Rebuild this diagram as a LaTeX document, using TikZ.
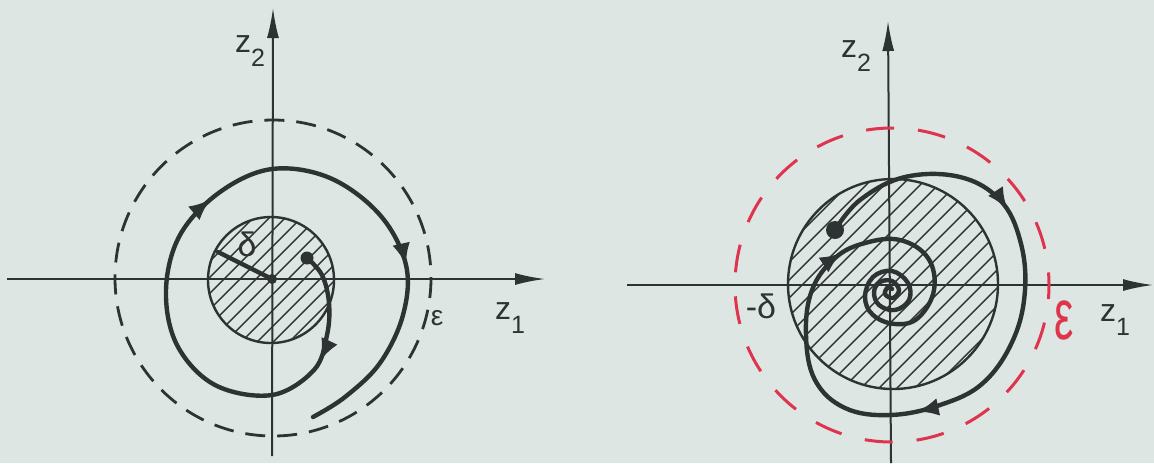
\documentclass[tikz,border=0pt]{standalone}
\usepackage{fontspec}
\setmainfont{Liberation Sans}
\usetikzlibrary{arrows.meta,decorations.markings}
\definecolor{bg}{RGB}{221,230,226}
\definecolor{ink}{RGB}{45,50,50}
\definecolor{redink}{RGB}{222,52,78}
\tikzset{spiraltip/.tip={Latex[length=11pt,width=9pt]}}
\begin{document}
\begin{tikzpicture}[x=0.5pt,y=-0.5pt,
  axis/.style={ink, line width=1pt, -{Latex[length=15pt,width=6pt]}},
  traj/.style={ink, line width=2.2pt, line cap=round, line join=round},
  rim/.style={ink, line width=1.2pt},
  hatchline/.style={ink, line width=0.7pt},
  lbl/.style={ink, inner sep=0pt, font=\fontsize{16}{16}\selectfont},
  dashblack/.style={ink, line width=1.4pt, dash pattern=on 10pt off 6pt},
  dashred/.style={redink, line width=1.5pt, dash pattern=on 14pt off 12pt}]
\fill[bg] (0,0) rectangle (1154,463);
\useasboundingbox (0,0) rectangle (1154,463);

% ---------------- left diagram ----------------
\coordinate (O1) at (272,279);
\coordinate (L1) at (7,279);
\coordinate (R1) at (545,279);
\coordinate (B1) at (272,456);
\coordinate (T1) at (273,8);
\coordinate (C1) at (271,280);
\begin{scope}
  \clip (C1) circle[radius=63];
  \foreach \c in {-176,-160,...,176}
    \draw[hatchline, shift={(C1)}] (\c+200,-200) -- (\c-200,200);
\end{scope}
\draw[rim] (C1) circle[radius=63];
\draw[axis] (L1) -- (R1);
\draw[axis] (B1) -- (T1);
\draw[dashblack] (273,278) circle[radius=158];
\coordinate (D1) at (218,252);
\draw[traj] (O1) -- (D1);
\fill[ink] (O1) circle[radius=5];
\coordinate (S1) at (307,258);
\fill[ink] (S1) circle[radius=6.5];
\draw[traj, postaction={decorate}, decoration={markings,
    mark=at position 0.125 with {\arrow{spiraltip}},
    mark=at position 0.505 with {\arrow{spiraltip}},
    mark=at position 0.785 with {\arrow{spiraltip}}}]
  plot[smooth, tension=0.6] coordinates {(S1) (322,275) (329,303) (327,335)
    (314,370) (272,395) (215,385) (177,345) (166,290) (180,235) (220,192)
    (272,169) (330,178) (380,215) (406,265) (403,315) (380,363) (345,397)
    (313,417)};
\node[lbl] (z2a) at (250,51) {z\raisebox{-7pt}{\fontsize{12.5}{12}\selectfont 2}};
\node[lbl] (z1a) at (510,318) {z\raisebox{-7pt}{\fontsize{12.5}{12}\selectfont 1}};
\node[lbl, font=\fontsize{14}{14}\selectfont] (epsa) at (437,318) {ε};
\node[lbl, font=\fontsize{17}{17}\selectfont] (dela) at (247,244) {δ};

% ---------------- right diagram ----------------
\coordinate (O2) at (891,285);
\coordinate (L2) at (627,285);
\coordinate (R2) at (1153,285);
\coordinate (B2) at (891,463);
\coordinate (T2) at (888,21);
\coordinate (C2) at (893,284);
\begin{scope}
  \clip (C2) circle[radius=105];
  \foreach \c in {-288,-270,...,288}
    \draw[hatchline, shift={(C2)}] (\c+300,-300) -- (\c-300,300);
\end{scope}
\draw[rim] (C2) circle[radius=105];
\draw[axis] (L2) -- (R2);
\draw[axis] (B2) -- (T2);
\draw[dashred, dash phase=7pt] (892,285) circle[radius=157];
\coordinate (S2) at (835,230);
\fill[ink] (S2) circle[radius=9];
\draw[traj, postaction={decorate}, decoration={markings,
    mark=at position 0.178 with {\arrow{spiraltip}},
    mark=at position 0.405 with {\arrow{spiraltip}},
    mark=at position 0.627 with {\arrow{spiraltip}}}]
  plot[smooth, tension=0.65] coordinates {(S2) (860,200) (905,177) (960,177)
    (1000,200) (1020,240) (1025,290) (1013,340) (983,383) (940,405) (890,415)
    (845,408) (815,380) (806,335) (812,290) (835,258) (865,243) (900,240)
    (928,258) (934,290) (918,318) (895,324) (873,315) (865,297) (873,277)
    (892,271) (908,283) (909,300) (895,310) (879,305) (874,292) (880,282)
    (892,281) (899,290) (893,298) (885,294) (888,287) (892,289)};
\node[lbl] (z2b) at (856,56) {z\raisebox{-7pt}{\fontsize{12.5}{12}\selectfont 2}};
\node[lbl] (z1b) at (1115,320) {z\raisebox{-7pt}{\fontsize{12.5}{12}\selectfont 1}};
\node[lbl, font=\fontsize{17}{17}\selectfont] (delb) at (761,306) {-δ};
\node[inner sep=0pt, text=redink, font=\fontsize{24}{24}\selectfont] (epsb) at (1064,320) {\scalebox{0.9}[1.5]{ε}};
\end{tikzpicture}
\end{document}
